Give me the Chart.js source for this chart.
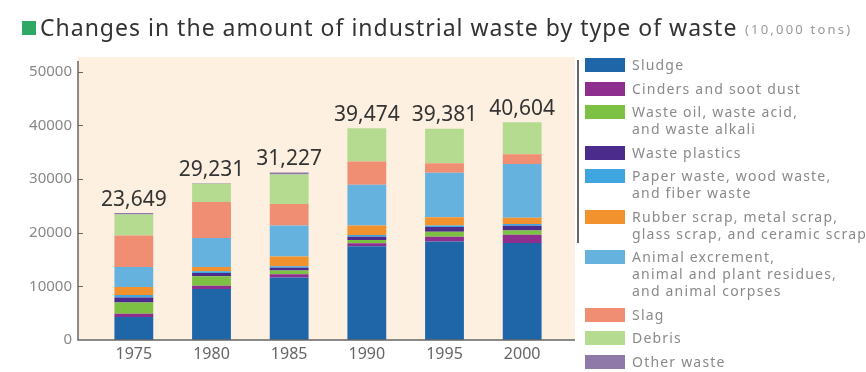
<!DOCTYPE html>
<html>
<head>
<meta charset="utf-8">
<script src="https://cdn.jsdelivr.net/npm/chart.js@4.4.1/dist/chart.umd.min.js"></script>
<style>
    html, body { margin: 0; padding: 0; background: #fff; }
    #wrap { position: relative; width: 866px; height: 372px; overflow: hidden; font-family: 'Noto Sans', sans-serif; }
    #chart { position: absolute; left: 0; top: 0; }
    .title-box { position: absolute; left: 22px; top: 21px; width: 14px; height: 14px; background: #2fa866; }
    .title { position: absolute; left: 40px; top: 11px; font-size: 23px; color: #333; white-space: nowrap; letter-spacing: 1px; }
    .unit { position: absolute; left: 745px; top: 20px; font-size: 13px; color: #999; white-space: nowrap; letter-spacing: 2.2px; }
    .legend-rule { position: absolute; left: 577px; top: 60px; width: 2px; height: 183px; background: #666; }
    #legend { position: absolute; left: 585px; top: 56px; }
    .item { display: flex; align-items: flex-start; margin-bottom: 6.5px; }
    .swatch { width: 40px; height: 14px; margin-top: 2px; flex: none; }
    .text { margin-left: 7px; font-size: 14px; line-height: 17px; color: #8a8a8a; white-space: nowrap; letter-spacing: 1.2px; }
</style>
</head>
<body>
<div id="wrap">
    <canvas id="chart" width="866" height="372"></canvas>
    <div class="title-box"></div>
    <div class="title">Changes in the amount of industrial waste by type of waste</div>
    <div class="unit">(10,000 tons)</div>
    <div class="legend-rule"></div>
    <div id="legend"></div>
</div>
<script>
// values in 10,000 tons
const years = ['1975', '1980', '1985', '1990', '1995', '2000'];
const totals = [23649, 29231, 31227, 39474, 39381, 40604];
const yTicks = [0, 10000, 20000, 30000, 40000, 50000];

const sludge = [4300, 9500, 11650, 17450, 18360, 18100];
const cinders = [600, 600, 600, 600, 900, 1500];
const wasteOil = [2100, 1800, 700, 600, 900, 800];
const wastePlastics = [900, 600, 500, 600, 900, 900];
const paperWaste = [500, 300, 300, 300, 300, 300];
const rubberScrap = [1500, 800, 1800, 1800, 1500, 1200];
const animalWaste = [3700, 5400, 5800, 7600, 8300, 10000];
const slag = [5900, 6700, 4000, 4300, 1800, 1800];
const debris = [3900, 3400, 5500, 6200, 6400, 6000];
const otherWaste = [249, 131, 377, 24, 21, 4];

const seriesNames = [
    ['Sludge'],
    ['Cinders and soot dust'],
    ['Waste oil, waste acid,', 'and waste alkali'],
    ['Waste plastics'],
    ['Paper waste, wood waste,', 'and fiber waste'],
    ['Rubber scrap, metal scrap,', 'glass scrap, and ceramic scrap'],
    ['Animal excrement,', 'animal and plant residues,', 'and animal corpses'],
    ['Slag'],
    ['Debris'],
    ['Other waste']
];
const seriesValues = [sludge, cinders, wasteOil, wastePlastics, paperWaste, rubberScrap, animalWaste, slag, debris, otherWaste];
const seriesColors = ['#1f66a8', '#8e2f8f', '#7cc144', '#4b2c8c', '#3fa6e2', '#f2922e', '#66b2de', '#f08e74', '#b5db90', '#8e79a8'];

function buildLegend() {
    const box = document.getElementById('legend');
    seriesNames.forEach((lines, i) => {
        const item = document.createElement('div');
        item.className = 'item';
        const sw = document.createElement('div');
        sw.className = 'swatch';
        sw.style.background = seriesColors[i];
        const tx = document.createElement('div');
        tx.className = 'text';
        tx.innerHTML = lines.join('<br>');
        item.appendChild(sw);
        item.appendChild(tx);
        box.appendChild(item);
    });
}

const framePlugin = {
    id: 'frame',
    beforeDraw(chart) {
        const { ctx, chartArea: a } = chart;
        ctx.save();
        ctx.fillStyle = '#fdf0e1';
        ctx.fillRect(a.left - 17, a.top - 4, a.right - a.left + 31, a.bottom - a.top + 4);
        ctx.restore();
    },
    afterDatasetsDraw(chart) {
        const { ctx, chartArea: a } = chart;
        const y = chart.scales.y;
        const x = chart.scales.x;
        const axisX = a.left - 17;
        ctx.save();
        ctx.strokeStyle = '#666';
        ctx.lineWidth = 1.5;
        ctx.beginPath();
        ctx.moveTo(axisX, a.top);
        ctx.lineTo(axisX, a.bottom);
        ctx.lineTo(a.right + 14, a.bottom);
        ctx.stroke();

        ctx.lineWidth = 1;
        yTicks.forEach(v => {
            if (v === 0) return;
            const py = Math.round(y.getPixelForValue(v)) + 0.5;
            ctx.beginPath();
            ctx.moveTo(axisX, py);
            ctx.lineTo(axisX + 5, py);
            ctx.stroke();
        });

        ctx.fillStyle = '#333';
        ctx.font = '21px "Noto Sans"';
        ctx.textAlign = 'center';
        ctx.textBaseline = 'bottom';
        totals.forEach((t, i) => {
            ctx.fillText(t.toLocaleString('en-US'), x.getPixelForValue(i), y.getPixelForValue(t) - 3);
        });
        ctx.restore();
    }
};

function initializeChart() {
    const ctx = document.getElementById('chart');
    new Chart(ctx, {
        type: 'bar',
        data: {
            labels: years,
            datasets: seriesValues.map((vals, i) => ({
                label: seriesNames[i].join(' '),
                data: vals,
                backgroundColor: seriesColors[i],
                borderWidth: 0,
                categoryPercentage: 1,
                barPercentage: 0.5
            }))
        },
        options: {
            responsive: false,
            animation: false,
            layout: { padding: { top: 61, right: 305, bottom: 0, left: 0 } },
            plugins: {
                legend: { display: false },
                tooltip: { enabled: false }
            },
            scales: {
                x: {
                    stacked: true,
                    grid: { display: false, drawTicks: false },
                    border: { display: false },
                    ticks: { color: '#666', font: { size: 16, family: 'Noto Sans' }, padding: 5 },
                    afterFit(scale) { scale.height = 30; }
                },
                y: {
                    stacked: true,
                    min: 0,
                    max: 52000,
                    grid: { display: false, drawTicks: false },
                    border: { display: false },
                    afterBuildTicks(scale) {
                        scale.ticks = yTicks.map(v => ({ value: v }));
                    },
                    ticks: {
                        color: '#888',
                        font: { size: 15, family: 'Noto Sans' },
                        padding: 23,
                        callback: v => String(v)
                    },
                    afterFit(scale) { scale.width = 95; }
                }
            }
        },
        plugins: [framePlugin]
    });
}

buildLegend();
initializeChart();
</script>
</body>
</html>
